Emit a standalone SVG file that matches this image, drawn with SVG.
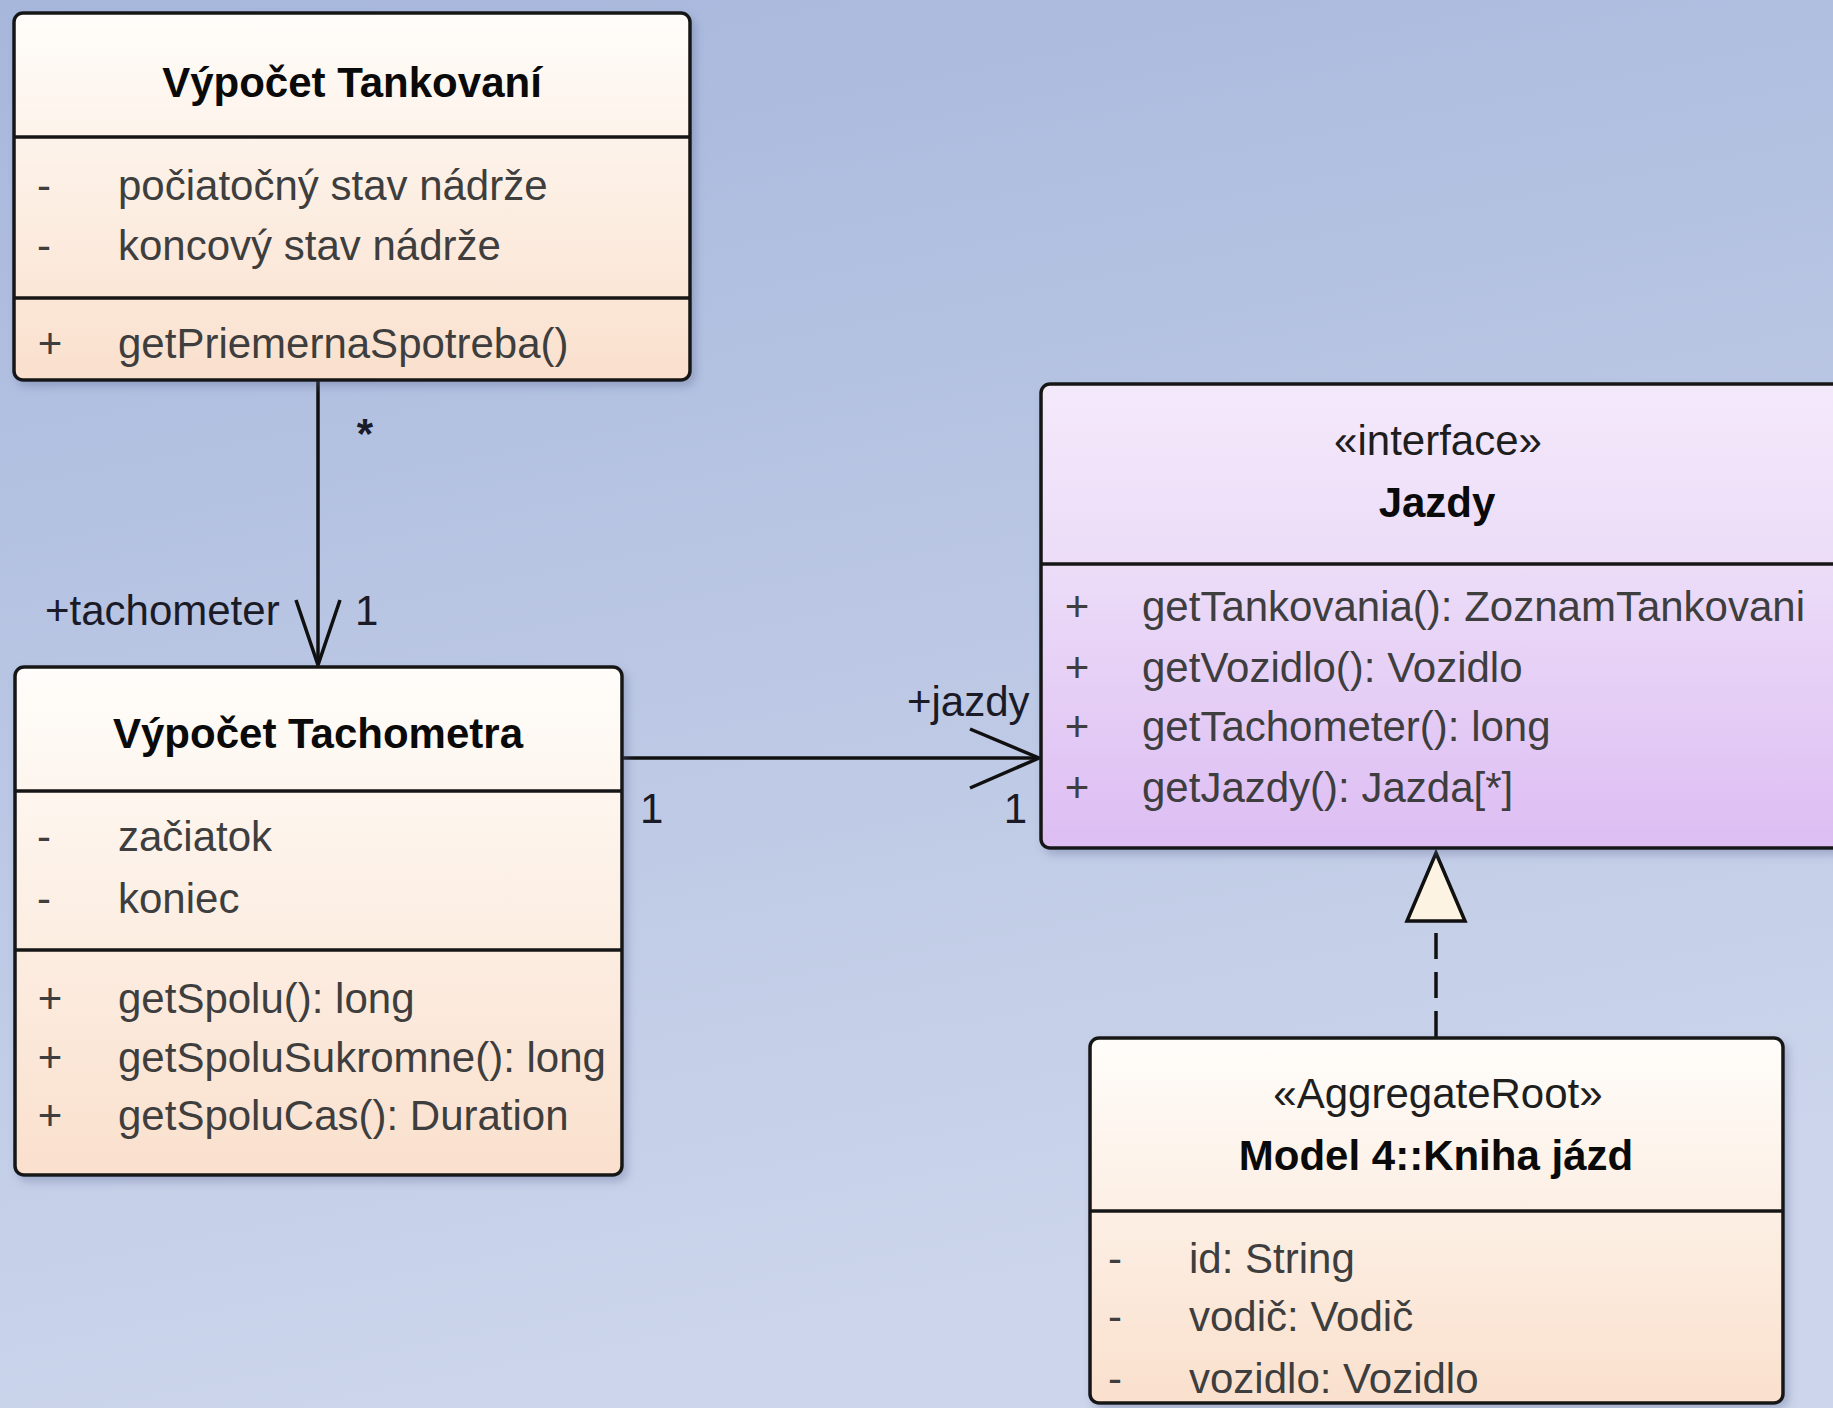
<svg xmlns="http://www.w3.org/2000/svg" width="1833" height="1408" viewBox="0 0 1833 1408">
  <defs>
    <linearGradient id="bg" x1="0" y1="0" x2="0.25" y2="1">
      <stop offset="0" stop-color="#a7b7dc"/>
      <stop offset="1" stop-color="#ccd5eb"/>
    </linearGradient>
    <linearGradient id="cls" x1="0" y1="0" x2="0" y2="1">
      <stop offset="0" stop-color="#fffdfa"/>
      <stop offset="0.3" stop-color="#fdf4ec"/>
      <stop offset="1" stop-color="#fae0cd"/>
    </linearGradient>
    <linearGradient id="ifc" x1="0" y1="0" x2="0" y2="1">
      <stop offset="0" stop-color="#f4e9fb"/>
      <stop offset="0.4" stop-color="#ecdcf8"/>
      <stop offset="1" stop-color="#ddbdf3"/>
    </linearGradient>
    <filter id="sh" x="-5%" y="-5%" width="115%" height="115%">
      <feDropShadow dx="4" dy="5" stdDeviation="4" flood-color="#5a6890" flood-opacity="0.35"/>
    </filter>
  </defs>
  <style>
    .box { stroke: #161616; stroke-width: 3.5; }
    .sep { stroke: #161616; stroke-width: 3.5; }
    .title { font-family: "Liberation Sans", Arial, sans-serif; font-size: 42px; font-weight: bold; fill: #0a0a0a; text-anchor: middle; }
    .stereo { font-family: "Liberation Sans", Arial, sans-serif; font-size: 42px; fill: #1e1e1e; text-anchor: middle; }
    .mem { font-family: "Liberation Sans", Arial, sans-serif; font-size: 42px; fill: #3e3e3e; }
    .vis { font-family: "Liberation Sans", Arial, sans-serif; font-size: 42px; fill: #3e3e3e; text-anchor: middle; }
    .lbl { font-family: "Liberation Sans", Arial, sans-serif; font-size: 42px; fill: #1b1b28; }
    .ln { stroke: #101010; stroke-width: 3.5; fill: none; }
  </style>
  <rect x="0" y="0" width="1833" height="1408" fill="url(#bg)"/>

  <g id="connectors">
    <g id="assoc-tachometer">
      <line class="ln" x1="318" y1="380" x2="318" y2="665"/>
      <polyline class="ln" points="296,600 318,665 340,600"/>
      <text class="lbl" x="365" y="448" text-anchor="middle" font-weight="bold">*</text>
      <text class="lbl" x="45" y="625">+tachometer</text>
      <text class="lbl" x="355" y="625">1</text>
    </g>
    <g id="assoc-jazdy">
      <line class="ln" x1="622" y1="758" x2="1039" y2="758"/>
      <polyline class="ln" points="970,729 1039,758 970,788"/>
      <text class="lbl" x="907" y="716">+jazdy</text>
      <text class="lbl" x="640" y="823">1</text>
      <text class="lbl" x="1027" y="823" text-anchor="end">1</text>
    </g>
    <g id="realization">
      <line class="ln" x1="1436" y1="1037" x2="1436" y2="921" stroke-dasharray="26 13"/>
      <polygon points="1436,853 1407,921 1465,921" fill="#fcf3e2" stroke="#101010" stroke-width="3.5" stroke-linejoin="miter"/>
    </g>
  </g>

  <g id="node-tankovani">
    <rect class="box" x="14" y="13" width="676" height="367" rx="9" fill="url(#cls)" filter="url(#sh)"/>
    <line class="sep" x1="14" y1="137" x2="690" y2="137"/>
    <line class="sep" x1="14" y1="298" x2="690" y2="298"/>
    <text class="title" x="352" y="97">Výpočet Tankovaní</text>
    <text class="vis" x="44" y="200">-</text>
    <text class="mem" x="118" y="200">počiatočný stav nádrže</text>
    <text class="vis" x="44" y="260">-</text>
    <text class="mem" x="118" y="260">koncový stav nádrže</text>
    <text class="vis" x="50" y="358">+</text>
    <text class="mem" x="118" y="358">getPriemernaSpotreba()</text>
  </g>

  <g id="node-tachometra">
    <rect class="box" x="15" y="667" width="607" height="508" rx="9" fill="url(#cls)" filter="url(#sh)"/>
    <line class="sep" x1="15" y1="791" x2="622" y2="791"/>
    <line class="sep" x1="15" y1="950" x2="622" y2="950"/>
    <text class="title" x="318" y="748">Výpočet Tachometra</text>
    <text class="vis" x="44" y="851">-</text>
    <text class="mem" x="118" y="851">začiatok</text>
    <text class="vis" x="44" y="913">-</text>
    <text class="mem" x="118" y="913">koniec</text>
    <text class="vis" x="50" y="1013">+</text>
    <text class="mem" x="118" y="1013">getSpolu(): long</text>
    <text class="vis" x="50" y="1072">+</text>
    <text class="mem" x="118" y="1072">getSpoluSukromne(): long</text>
    <text class="vis" x="50" y="1130">+</text>
    <text class="mem" x="118" y="1130">getSpoluCas(): Duration</text>
  </g>

  <g id="node-jazdy">
    <rect class="box" x="1041" y="384" width="810" height="464" rx="9" fill="url(#ifc)" filter="url(#sh)"/>
    <line class="sep" x1="1041" y1="564" x2="1851" y2="564"/>
    <text class="stereo" x="1438" y="455">«interface»</text>
    <text class="title" x="1437" y="517">Jazdy</text>
    <text class="vis" x="1077" y="621">+</text>
    <text class="mem" x="1142" y="621">getTankovania(): ZoznamTankovani</text>
    <text class="vis" x="1077" y="682">+</text>
    <text class="mem" x="1142" y="682">getVozidlo(): Vozidlo</text>
    <text class="vis" x="1077" y="741">+</text>
    <text class="mem" x="1142" y="741">getTachometer(): long</text>
    <text class="vis" x="1077" y="802">+</text>
    <text class="mem" x="1142" y="802">getJazdy(): Jazda[*]</text>
  </g>

  <g id="node-kniha-jazd">
    <rect class="box" x="1090" y="1038" width="693" height="365" rx="9" fill="url(#cls)" filter="url(#sh)"/>
    <line class="sep" x1="1090" y1="1211" x2="1783" y2="1211"/>
    <text class="stereo" x="1438" y="1108">«AggregateRoot»</text>
    <text class="title" x="1436" y="1170">Model 4::Kniha jázd</text>
    <text class="vis" x="1115" y="1273">-</text>
    <text class="mem" x="1189" y="1273">id: String</text>
    <text class="vis" x="1115" y="1331">-</text>
    <text class="mem" x="1189" y="1331">vodič: Vodič</text>
    <text class="vis" x="1115" y="1393">-</text>
    <text class="mem" x="1189" y="1393">vozidlo: Vozidlo</text>
  </g>
</svg>
